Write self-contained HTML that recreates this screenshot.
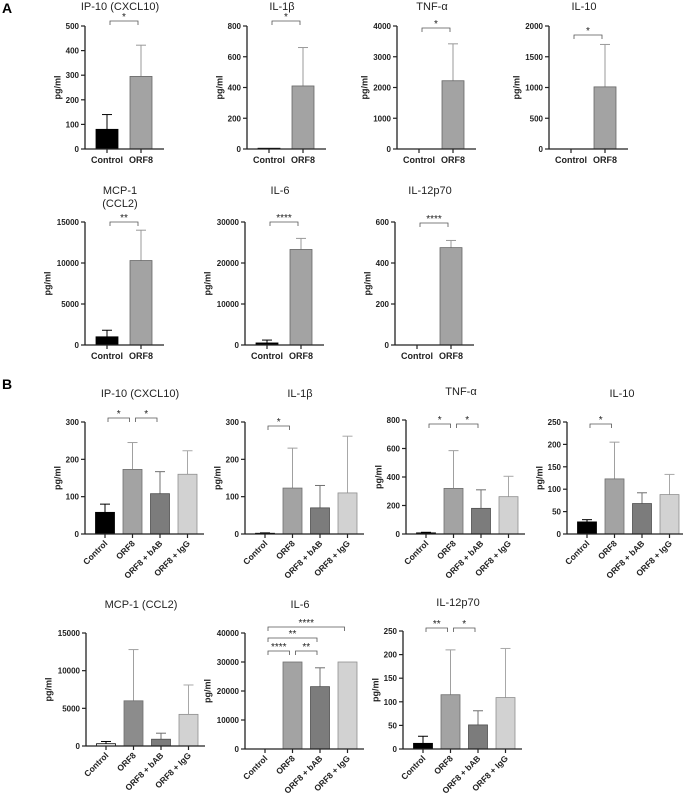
<!DOCTYPE html>
<html><head><meta charset="utf-8">
<style>
html,body{margin:0;padding:0;background:#fff;}
svg{display:block;font-family:"Liberation Sans",sans-serif;}
</style></head>
<body>
<svg id="fig" width="683" height="798" viewBox="0 0 683 798">
<text x="2" y="13" font-size="14" font-weight="bold">A</text>
<text x="2" y="389" font-size="14" font-weight="bold">B</text>
</svg>
<script>
// ---- Panel A data ----
const catsA = ["Control","ORF8"];
const a_ip10 = [80, 295];       const a_ip10_err = [140, 422];
const a_il1b = [5, 410];        const a_il1b_err = [5, 660];
const a_tnf = [0, 2220];        const a_tnf_err = [0, 3420];
const a_il10 = [0, 1010];       const a_il10_err = [0, 1700];
const a_mcp1 = [1000, 10300];   const a_mcp1_err = [1800, 14000];
const a_il6 = [500, 23300];     const a_il6_err = [1200, 26000];
const a_il12 = [0, 475];        const a_il12_err = [0, 510];
// ---- Panel B data ----
const catsB = ["Control","ORF8","ORF8 + bAB","ORF8 + IgG"];
const b_ip10 = [58, 173, 108, 160];     const b_ip10_err = [80, 245, 167, 223];
const b_il1b = [2, 123, 70, 110];       const b_il1b_err = [3, 230, 130, 262];
const b_tnf = [8, 320, 180, 262];       const b_tnf_err = [12, 585, 310, 405];
const b_il10 = [27, 123, 68, 88];       const b_il10_err = [32, 205, 92, 133];
const b_mcp1 = [300, 6000, 900, 4200];  const b_mcp1_err = [600, 12800, 1700, 8100];
const b_il6 = [0, 30000, 21500, 30000]; const b_il6_err = [0, 30000, 28000, 30000];
const b_il12 = [12, 115, 51, 109];      const b_il12_err = [27, 210, 81, 213];

const NS = "http://www.w3.org/2000/svg";
const svg = document.getElementById("fig");
function mk(tag, attrs, parent){ const e=document.createElementNS(NS,tag); for(const k in attrs) e.setAttribute(k,attrs[k]); (parent||svg).appendChild(e); return e; }

const fillsA = ["#000000","#a3a3a3"];
const fillsB = ["#000000","#a3a3a3","#7c7c7c","#d2d2d2"];
const strokesB = ["#000000","#6f6f6f","#4f4f4f","#8f8f8f"];
const errB = ["#000000","#a0a0a0","#707070","#a8a8a8"];

function panel(p){
  const g = mk("g",{});
  
  
  const y = v => p.bot - (v - 0) / p.max * (p.bot - p.top);
  const n = p.cats.length;
  const xc = i => p.ax + p.first + i * p.step;
  p.title.forEach((t,k)=>{
    const tt = mk("text",{x:p.ax+p.tx,y:p.ty+k*13,"font-size":11,"text-anchor":"middle",fill:"#222"},g);
    tt.textContent=t;
    
    
  });
  for(let i=0;i<n;i++){
    const v=p.vals[i], e=p.errs[i], cx=xc(i), w=p.bw;
    const ey=y(e), vy=y(v);
    if(e>v){
      const el=mk("line",{x1:cx,x2:cx,y1:vy,y2:ey,stroke:p.ecol[i],"stroke-width":1},g);
      
      
      const cap=mk("line",{x1:cx-5,x2:cx+5,y1:ey,y2:ey,stroke:p.ecol[i],"stroke-width":1},g);
      
      
    }
    const h=Math.max(p.bot-vy,0);
    const r=mk("rect",{x:cx-w/2,y:vy,width:w,height:h,fill:p.fills[i],stroke:p.strokes[i],"stroke-width":0.8},g);
    
    
  }
  const ya=mk("line",{x1:p.ax,x2:p.ax,y1:p.top,y2:p.bot+0.5,stroke:"#222","stroke-width":1.3},g);
  
  
  const xa=mk("line",{x1:p.ax,x2:p.ax+p.xlen,y1:p.bot,y2:p.bot,stroke:"#222","stroke-width":1.3},g);
  
  
  let maxLen=0;
  for(let t=0;t<=p.max+1e-9;t+=p.tick){
    const ty=y(t);
    mk("line",{x1:p.ax-4,x2:p.ax,y1:ty,y2:ty,stroke:"#222","stroke-width":1.2},g);
    const lbl=mk("text",{x:p.ax-6,y:ty+3,"font-size":8,"font-weight":"bold","text-anchor":"end",fill:"#222"},g);
    lbl.textContent=String(t);
    
    
    maxLen=Math.max(maxLen,String(t).length);
  }
  const yl=mk("text",{x:0,y:0,"font-size":9,"font-weight":"bold","text-anchor":"middle",fill:"#222",transform:`translate(${p.ax-10-maxLen*4.9},${(p.top+p.bot)/2}) rotate(-90)`},g);
  yl.textContent="pg/ml";
  
  
  for(let i=0;i<n;i++){
    const cx=xc(i);
    mk("line",{x1:cx,x2:cx,y1:p.bot,y2:p.bot+4,stroke:"#222","stroke-width":1.2},g);
    let t;
    if(p.rot){
      t=mk("text",{x:0,y:0,"font-size":8.5,"font-weight":"bold","text-anchor":"end",fill:"#222",transform:`translate(${cx+3},${p.bot+10}) rotate(-45)`},g);
    } else {
      t=mk("text",{x:cx,y:p.bot+14,"font-size":9,"font-weight":"bold","text-anchor":"middle",fill:"#222"},g);
    }
    t.textContent=p.cats[i];
    
    
  }
  (p.sig||[]).forEach(s=>{
    const x1=xc(s[0])+3, x2=xc(s[1])-3, by=p.top+s[3];
    const br=mk("path",{d:`M${x1},${by+4}V${by}H${x2}V${by+4}`,fill:"none",stroke:"#555","stroke-width":0.8},g);
    
    
    const st=mk("text",{x:(x1+x2)/2,y:by-1,"font-size":10,"text-anchor":"middle",fill:"#222"},g);
    st.textContent=s[2];
    
    
  });
}

function A(name,ax,top,bot,title,vals,errs,max,tick,sig,ty){
  panel({name,ax,top,bot,title,vals,errs,max,tick,sig,cats:catsA,fills:fillsA,strokes:["#000","#666"],ecol:["#000","#999"],
    first:22,step:34,bw:22,xlen:79,tx:35,ty:ty,rot:false});
}
function B(name,ax,top,bot,title,vals,errs,max,tick,sig,fills){
  panel({name,ax,top,bot,title,vals,errs,max,tick,sig,cats:catsB,fills:fills||fillsB,strokes:strokesB,ecol:errB,
    first:20,step:27.5,bw:19,xlen:119,tx:55,ty:top-25,rot:true});
}
A("chart-a-ip10",85,26,149,["IP-10 (CXCL10)"],a_ip10,a_ip10_err,500,100,[[0,1,"*",-5]],10);
A("chart-a-il1b",247,26,149,["IL-1β"],a_il1b,a_il1b_err,800,200,[[0,1,"*",-5]],10);
A("chart-a-tnf",397,26,149,["TNF-α"],a_tnf,a_tnf_err,4000,1000,[[0,1,"*",2]],10);
A("chart-a-il10",549,26,149,["IL-10"],a_il10,a_il10_err,2000,500,[[0,1,"*",9]],10);
A("chart-a-mcp1",85,222,345,["MCP-1","(CCL2)"],a_mcp1,a_mcp1_err,15000,5000,[[0,1,"**",0]],194);
A("chart-a-il6",245,222,345,["IL-6"],a_il6,a_il6_err,30000,10000,[[0,1,"****",0]],194);
A("chart-a-il12p70",395,222,345,["IL-12p70"],a_il12,a_il12_err,600,200,[[0,1,"****",1]],194);

B("chart-b-ip10",85,422,534,["IP-10 (CXCL10)"],b_ip10,b_ip10_err,300,100,[[0,1,"*",-4],[1,2,"*",-4]]);
B("chart-b-il1b",245,422,534,["IL-1β"],b_il1b,b_il1b_err,300,100,[[0,1,"*",4]]);
B("chart-b-tnf",406,420,534,["TNF-α"],b_tnf,b_tnf_err,800,200,[[0,1,"*",4],[1,2,"*",4]]);
B("chart-b-il10",567,422,534,["IL-10"],b_il10,b_il10_err,250,50,[[0,1,"*",2]]);
B("chart-b-mcp1",86,633,746,["MCP-1 (CCL2)"],b_mcp1,b_mcp1_err,15000,5000,[],["#ffffff","#8c8c8c","#7c7c7c","#d2d2d2"]);
B("chart-b-il6",245,633,749,["IL-6"],b_il6,b_il6_err,40000,10000,[[0,3,"****",-6],[0,2,"**",5],[0,1,"****",18],[1,2,"**",18]]);
B("chart-b-il12p70",403,631,749,["IL-12p70"],b_il12,b_il12_err,250,50,[[0,1,"**",-3],[1,2,"*",-3]]);
</script>
</body></html>
